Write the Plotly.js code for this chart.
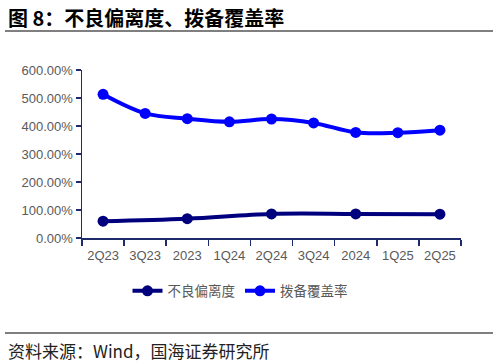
<!DOCTYPE html>
<html><head><meta charset="utf-8">
<script src="https://cdn.plot.ly/plotly-3.0.1.min.js"></script>
<style>body{margin:0;background:#fff}#c{width:498px;height:364px}</style>
</head><body><div id="c"></div>
<script>
const categories = ['2Q23','3Q23','2023','1Q24','2Q24','3Q24','2024','1Q25','2Q25'];
const nplDeviation = [60, null, 69, null, 86, null, 86, null, 85];
const coverageRatio = [513, 445, 426, 415, 425, 411, 377, 376, 385];
const yTicks = [0, 100, 200, 300, 400, 500, 600];

const W = 498, H = 364;
const M = {l: 82, r: 37, t: 70, b: 126};
const pw = W - M.l - M.r, ph = H - M.t - M.b;
const px = x => (x - M.l) / pw;
const py = y => (H - M.b - y) / ph;

const data = [
  {x: categories, y: nplDeviation, name: '不良偏离度', type: 'scatter', mode: 'lines+markers',
   connectgaps: true, line: {color: '#00007f', width: 4, shape: 'spline'},
   marker: {color: '#00007f', size: 11}},
  {x: categories, y: coverageRatio, name: '拨备覆盖率', type: 'scatter', mode: 'lines+markers',
   line: {color: '#0000ff', width: 4, shape: 'spline'},
   marker: {color: '#0000ff', size: 11}}
];

const layout = {
  width: W, height: H, margin: M, paper_bgcolor: '#fff', plot_bgcolor: '#fff',
  showlegend: true,
  font: {family: 'Liberation Sans, Arial, sans-serif', color: '#595959', size: 13},
  xaxis: {type: 'category', range: [-0.5, 8.5], showgrid: false, zeroline: false,
    showline: true, linecolor: '#1f2a6b', linewidth: 1.5,
    ticks: 'outside', tickson: 'boundaries', ticklen: 6, tickcolor: '#1f2a6b', tickwidth: 1.5,
    ticklabelstandoff: 5,
    tickfont: {size: 13, color: '#595959'}, fixedrange: true},
  yaxis: {range: [0, 600], tickvals: yTicks, ticktext: yTicks.map(v => v.toFixed(2) + '%'),
    showgrid: false, zeroline: false, showline: true, linecolor: '#1f2a6b', linewidth: 1.5,
    ticks: 'outside', ticklen: 5, tickcolor: '#1f2a6b', tickwidth: 1.5,
    tickfont: {size: 13, color: '#595959'}, fixedrange: true},
  legend: {orientation: 'h', x: px(240), xanchor: 'center', y: py(291), yanchor: 'middle',
    font: {family: 'Noto Sans CJK SC', size: 13.5, color: '#595959'}, itemwidth: 30,
    tracegroupgap: 0, bgcolor: 'rgba(0,0,0,0)'},
  shapes: [
    {type: 'line', xref: 'paper', yref: 'paper', x0: px(5), x1: px(493), y0: py(31), y1: py(31),
     line: {color: '#7f7f7f', width: 2}},
    {type: 'line', xref: 'paper', yref: 'paper', x0: px(5), x1: px(493), y0: py(333), y1: py(333),
     line: {color: '#7f7f7f', width: 2}}
  ],
  annotations: [
    {xref: 'paper', yref: 'paper', x: px(6), y: py(17), xanchor: 'left', yanchor: 'middle',
     text: '<b>图 8：不良偏离度、拨备覆盖率</b>', showarrow: false,
     font: {family: 'Noto Sans CJK SC', size: 20, color: '#000'}},
    {xref: 'paper', yref: 'paper', x: px(6), y: py(350), xanchor: 'left', yanchor: 'middle',
     text: '资料来源：Wind，国海证券研究所', showarrow: false,
     font: {family: 'Noto Sans CJK SC', size: 17, color: '#222'}}
  ]
};
Plotly.newPlot('c', data, layout, {displayModeBar: false, staticPlot: true});
</script></body></html>
